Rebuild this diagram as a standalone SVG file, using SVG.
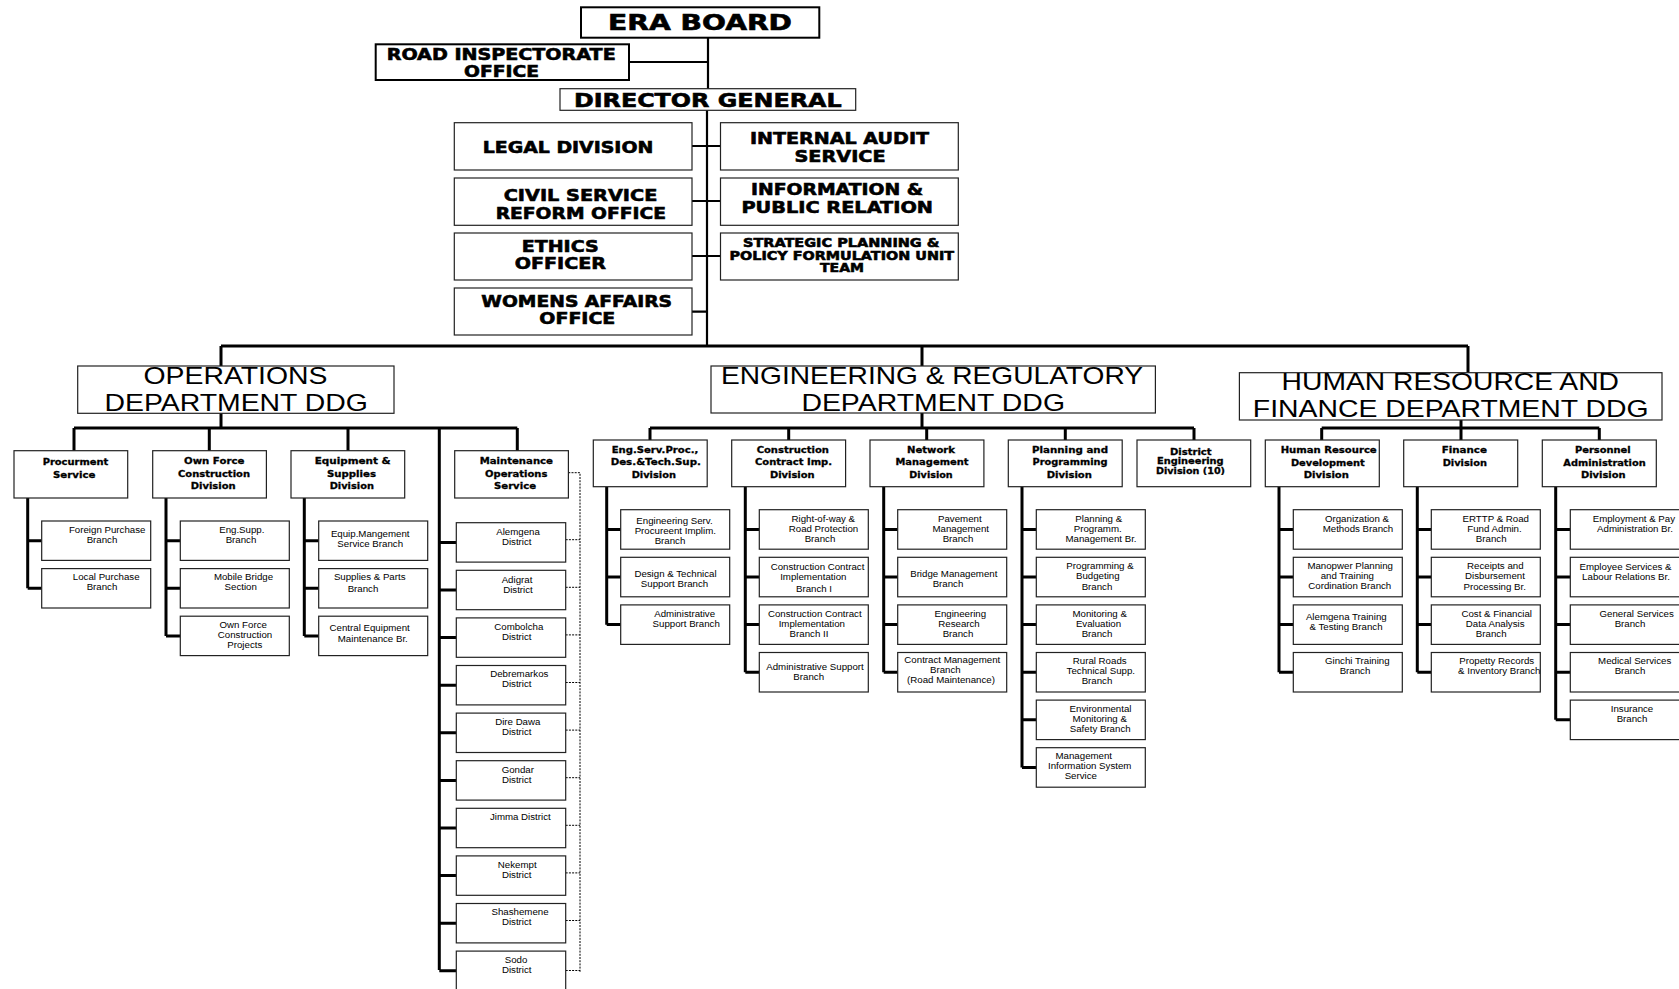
<svg xmlns="http://www.w3.org/2000/svg" width="1679" height="989" viewBox="0 0 1679 989">
<style>
.bx{fill:#fff;stroke:#222;stroke-width:1.2}
.bk{stroke-width:2;stroke:#000}
.ln{stroke:#000;stroke-width:3;fill:none}
.lt{stroke:#000;stroke-width:2.2;fill:none}
.dt{stroke:#000;stroke-width:1;stroke-dasharray:2 1.2;fill:none}
.h{font-family:"DejaVu Sans","Liberation Sans",sans-serif;font-weight:bold;fill:#000;text-anchor:middle;stroke:#000;stroke-width:0.6}
.d{font-family:"DejaVu Sans","Liberation Sans",sans-serif;font-weight:bold;font-size:9px;fill:#000;text-anchor:middle;stroke:#000;stroke-width:0.3}
.g{font-family:"Liberation Sans",Arial,sans-serif;font-size:24px;fill:#000;text-anchor:middle}
.t{font-family:"Liberation Sans",Arial,sans-serif;font-size:9.7px;fill:#000;text-anchor:middle}
</style>
<g id="connectors">
<path class="lt" d="M708 38V89M629 62H708M707 110V346M692 146H721M692 201H721M692 256H721M692 311.7H707"/>
<path class="ln" d="M221 346H1468M221 346V366M922 346V366M1468 346V373"/>
<path class="ln" d="M221 413V428M74 428H517.3M74 428V451M209.3 428V451M348 428V451M517.3 428V451M439.3 428V970"/>
<path class="ln" d="M922 413V428M650 428H1194M650 428V440M788.7 428V440M926.7 428V440M1065.3 428V440M1194 428V440"/>
<path class="ln" d="M1461 420V428M1321.7 428H1599.3M1321.7 428V440M1461 428V440M1599.3 428V440"/>
<path class="ln" d="M27.7 498V588.3M27.7 540.7H41.7M27.7 588.3H41.7M166 498V636M166 540.7H180.3M166 588.3H180.3M166 636H180.3M304.3 498V636M304.3 540.7H318.7M304.3 588.3H318.7M304.3 636H318.7"/>
<path class="ln" d="M439.3 542.4H456.3M439.3 590H456.3M439.3 637.6H456.3M439.3 685.2H456.3M439.3 732.8H456.3M439.3 780.4H456.3M439.3 828H456.3M439.3 875.6H456.3M439.3 923.2H456.3M439.3 970.8H456.3"/>
<path class="dt" d="M568.3 472.7H580V972M565.7 539.7H580M565.7 587.3H580M565.7 634.9H580M565.7 682.5H580M565.7 730.1H580M565.7 777.7H580M565.7 825.3H580M565.7 872.9H580M565.7 920.5H580M565.7 970.5H580"/>
<path class="ln" d="M606.7 486.7V624.7M606.7 529.4H620.7M606.7 577H620.7M606.7 624.6H620.7"/>
<path class="ln" d="M745.3 486.7V672.2M745.3 529.4H759.3M745.3 577H759.3M745.3 624.6H759.3M745.3 672.2H759.3"/>
<path class="ln" d="M883.7 486.7V672.2M883.7 529.4H897.7M883.7 577H897.7M883.7 624.6H897.7M883.7 672.2H897.7"/>
<path class="ln" d="M1022 486.7V767.4M1022 529.4H1036.3M1022 577H1036.3M1022 624.6H1036.3M1022 672.2H1036.3M1022 719.8H1036.3M1022 767.4H1036.3"/>
<path class="ln" d="M1279 486.7V672.2M1279 529.4H1293.3M1279 577H1293.3M1279 624.6H1293.3M1279 672.2H1293.3"/>
<path class="ln" d="M1417.3 486.7V672.2M1417.3 529.4H1431.3M1417.3 577H1431.3M1417.3 624.6H1431.3M1417.3 672.2H1431.3"/>
<path class="ln" d="M1555.7 486.7V719.8M1555.7 529.4H1570.3M1555.7 577H1570.3M1555.7 624.6H1570.3M1555.7 672.2H1570.3M1555.7 719.8H1570.3"/>
</g>
<g id="era-board"><rect class="bx bk" x="581" y="7.3" width="238.3" height="30.4"/><text class="h" x="700" y="30" font-size="21" textLength="184" lengthAdjust="spacingAndGlyphs">ERA BOARD</text></g>
<g id="road-inspectorate"><rect class="bx bk" x="375.7" y="44.3" width="253.3" height="35.7"/><text class="h" x="501.2" y="60" font-size="16" textLength="229" lengthAdjust="spacingAndGlyphs">ROAD INSPECTORATE</text><text class="h" x="501.5" y="77.3" font-size="16" textLength="75" lengthAdjust="spacingAndGlyphs">OFFICE</text></g>
<g id="director-general"><rect class="bx" x="560" y="88.7" width="295.7" height="21.6"/><text class="h" x="707.8" y="106.7" font-size="20" textLength="267.7" lengthAdjust="spacingAndGlyphs">DIRECTOR GENERAL</text></g>
<g id="legal"><rect class="bx" x="454.3" y="122.7" width="237.7" height="47.3"/><text class="h" x="568" y="152.7" font-size="16" textLength="170.6" lengthAdjust="spacingAndGlyphs">LEGAL DIVISION</text></g>
<g id="civil-service"><rect class="bx" x="454.3" y="178" width="237.7" height="47.3"/><text class="h" x="580.5" y="201.3" font-size="16" textLength="153.6" lengthAdjust="spacingAndGlyphs">CIVIL SERVICE</text><text class="h" x="580.8" y="219.3" font-size="16" textLength="170.3" lengthAdjust="spacingAndGlyphs">REFORM OFFICE</text></g>
<g id="ethics"><rect class="bx" x="454.3" y="233" width="237.7" height="47"/><text class="h" x="560.2" y="251.7" font-size="16" textLength="77" lengthAdjust="spacingAndGlyphs">ETHICS</text><text class="h" x="560.3" y="269.3" font-size="16" textLength="91.3" lengthAdjust="spacingAndGlyphs">OFFICER</text></g>
<g id="womens-affairs"><rect class="bx" x="454.3" y="288" width="237.7" height="47"/><text class="h" x="576.7" y="306.7" font-size="16" textLength="190.7" lengthAdjust="spacingAndGlyphs">WOMENS AFFAIRS</text><text class="h" x="577.3" y="324.3" font-size="16" textLength="76" lengthAdjust="spacingAndGlyphs">OFFICE</text></g>
<g id="internal-audit"><rect class="bx" x="720.5" y="122.7" width="237.8" height="47.3"/><text class="h" x="839.5" y="144" font-size="16" textLength="179" lengthAdjust="spacingAndGlyphs">INTERNAL AUDIT</text><text class="h" x="840" y="161.7" font-size="16" textLength="91" lengthAdjust="spacingAndGlyphs">SERVICE</text></g>
<g id="information"><rect class="bx" x="720.5" y="178" width="237.8" height="47.3"/><text class="h" x="837" y="195.3" font-size="16" textLength="172" lengthAdjust="spacingAndGlyphs">INFORMATION &amp;</text><text class="h" x="837.2" y="212.7" font-size="16" textLength="191.6" lengthAdjust="spacingAndGlyphs">PUBLIC RELATION</text></g>
<g id="strategic"><rect class="bx" x="720.5" y="233" width="237.8" height="47"/><text class="h" x="841.2" y="246.7" font-size="12.5" textLength="196.4" lengthAdjust="spacingAndGlyphs">STRATEGIC PLANNING &amp;</text><text class="h" x="841.8" y="260" font-size="12.5" textLength="224.5" lengthAdjust="spacingAndGlyphs">POLICY FORMULATION UNIT</text><text class="h" x="842" y="272.3" font-size="12.5" textLength="44" lengthAdjust="spacingAndGlyphs">TEAM</text></g>
<g id="operations-ddg"><rect class="bx" x="77.7" y="366" width="316.3" height="47.3"/><text class="g" x="235.5" y="383.5" textLength="184" lengthAdjust="spacingAndGlyphs">OPERATIONS</text><text class="g" x="236.2" y="410.5" textLength="263.5" lengthAdjust="spacingAndGlyphs">DEPARTMENT DDG</text></g>
<g id="engineering-ddg"><rect class="bx" x="711" y="366" width="444.4" height="47"/><text class="g" x="932" y="383.5" textLength="422" lengthAdjust="spacingAndGlyphs">ENGINEERING &amp; REGULATORY</text><text class="g" x="933.2" y="410.5" textLength="263.6" lengthAdjust="spacingAndGlyphs">DEPARTMENT DDG</text></g>
<g id="hr-finance-ddg"><rect class="bx" x="1239.4" y="372.7" width="422.6" height="47.3"/><text class="g" x="1450.3" y="389.5" textLength="337.4" lengthAdjust="spacingAndGlyphs">HUMAN RESOURCE AND</text><text class="g" x="1450.7" y="416.8" textLength="395.7" lengthAdjust="spacingAndGlyphs">FINANCE DEPARTMENT DDG</text></g>
<g id="procurement"><rect class="bx" x="14" y="450.7" width="113.7" height="47.3"/><text class="d" x="75.5" y="464.5" textLength="65.7" lengthAdjust="spacingAndGlyphs">Procurment</text><text class="d" x="74.2" y="477.5" textLength="42.3" lengthAdjust="spacingAndGlyphs">Service</text></g>
<g id="own-force"><rect class="bx" x="152.7" y="450.7" width="113.7" height="47.3"/><text class="d" x="214.2" y="464.3" textLength="60.3" lengthAdjust="spacingAndGlyphs">Own Force</text><text class="d" x="214" y="477.3" textLength="72" lengthAdjust="spacingAndGlyphs">Construction</text><text class="d" x="213.2" y="489" textLength="45" lengthAdjust="spacingAndGlyphs">Division</text></g>
<g id="equipment"><rect class="bx" x="291" y="450.7" width="113.7" height="47.3"/><text class="d" x="352.7" y="464.3" textLength="76" lengthAdjust="spacingAndGlyphs">Equipment  &amp;</text><text class="d" x="351.5" y="477.3" textLength="49" lengthAdjust="spacingAndGlyphs">Supplies</text><text class="d" x="351.8" y="489" textLength="44.3" lengthAdjust="spacingAndGlyphs">Division</text></g>
<g id="maintenance"><rect class="bx" x="454.7" y="450.7" width="113.7" height="47.3"/><text class="d" x="516.3" y="464.3" textLength="73.3" lengthAdjust="spacingAndGlyphs">Maintenance</text><text class="d" x="516.2" y="477.3" textLength="62.3" lengthAdjust="spacingAndGlyphs">Operations</text><text class="d" x="515" y="489.3" textLength="42" lengthAdjust="spacingAndGlyphs">Service</text></g>
<g id="foreign-purchase"><rect class="bx" x="41.7" y="521" width="109" height="39.4"/><text class="t" x="107.2" y="533.3">Foreign Purchase</text><text class="t" x="102" y="543.3">Branch</text></g>
<g id="local-purchase"><rect class="bx" x="41.7" y="568.6" width="109" height="39.4"/><text class="t" x="106.2" y="580.3">Local Purchase</text><text class="t" x="102" y="590.3">Branch</text></g>
<g id="eng-supp"><rect class="bx" x="180.3" y="521" width="109" height="39.4"/><text class="t" x="241.8" y="533.3">Eng.Supp.</text><text class="t" x="241" y="543.3">Branch</text></g>
<g id="mobile-bridge"><rect class="bx" x="180.3" y="568.6" width="109" height="39.4"/><text class="t" x="243.5" y="580.3">Mobile Bridge</text><text class="t" x="240.7" y="590.3">Section</text></g>
<g id="own-force-projects"><rect class="bx" x="180.3" y="616.2" width="109" height="39.4"/><text class="t" x="243.2" y="628.3">Own Force</text><text class="t" x="245" y="638.3">Construction</text><text class="t" x="244.8" y="648.3">Projects</text></g>
<g id="equip-mgmt"><rect class="bx" x="318.7" y="521" width="109" height="39.4"/><text class="t" x="370.2" y="537.3">Equip.Mangement</text><text class="t" x="370.2" y="546.7">Service Branch</text></g>
<g id="supplies-parts"><rect class="bx" x="318.7" y="568.6" width="109" height="39.4"/><text class="t" x="369.7" y="580.3">Supplies &amp; Parts</text><text class="t" x="363" y="592.3">Branch</text></g>
<g id="central-equipment"><rect class="bx" x="318.7" y="616.2" width="109" height="39.4"/><text class="t" x="369.7" y="630.7">Central Equipment</text><text class="t" x="372.8" y="642.3">Maintenance Br.</text></g>
<g id="d-alemgena"><rect class="bx" x="456.3" y="522.7" width="109.4" height="39.4"/><text class="t" x="518" y="535">Alemgena</text><text class="t" x="516.7" y="545">District</text></g>
<g id="d-adigrat"><rect class="bx" x="456.3" y="570.3" width="109.4" height="39.4"/><text class="t" x="517" y="582.6">Adigrat</text><text class="t" x="518" y="592.6">District</text></g>
<g id="d-combolcha"><rect class="bx" x="456.3" y="617.9" width="109.4" height="39.4"/><text class="t" x="518.8" y="630.2">Combolcha</text><text class="t" x="516.7" y="640.2">District</text></g>
<g id="d-debremarkos"><rect class="bx" x="456.3" y="665.5" width="109.4" height="39.4"/><text class="t" x="519.3" y="677.3">Debremarkos</text><text class="t" x="516.7" y="687.3">District</text></g>
<g id="d-diredawa"><rect class="bx" x="456.3" y="713.1" width="109.4" height="39.4"/><text class="t" x="517.8" y="724.9">Dire Dawa</text><text class="t" x="516.7" y="734.9">District</text></g>
<g id="d-gondar"><rect class="bx" x="456.3" y="760.7" width="109.4" height="39.4"/><text class="t" x="517.8" y="772.5">Gondar</text><text class="t" x="516.7" y="782.5">District</text></g>
<g id="d-jimma"><rect class="bx" x="456.3" y="808.3" width="109.4" height="39.4"/><text class="t" x="520.3" y="820.2">Jimma District</text></g>
<g id="d-nekempt"><rect class="bx" x="456.3" y="855.9" width="109.4" height="39.4"/><text class="t" x="517.2" y="867.7">Nekempt</text><text class="t" x="516.7" y="877.7">District</text></g>
<g id="d-shashemene"><rect class="bx" x="456.3" y="903.5" width="109.4" height="39.4"/><text class="t" x="520" y="915.3">Shashemene</text><text class="t" x="516.7" y="925.3">District</text></g>
<g id="d-sodo"><rect class="bx" x="456.3" y="951.1" width="109.4" height="39.4"/><text class="t" x="516" y="962.9">Sodo</text><text class="t" x="516.7" y="972.9">District</text></g>
<g id="eng-serv"><rect class="bx" x="593.3" y="440" width="113.9" height="46.7"/><text class="d" x="655" y="453.3" textLength="86.7" lengthAdjust="spacingAndGlyphs">Eng.Serv.Proc.,</text><text class="d" x="655.8" y="465.3" textLength="90.3" lengthAdjust="spacingAndGlyphs">Des.&amp;Tech.Sup.</text><text class="d" x="653.8" y="478" textLength="44.3" lengthAdjust="spacingAndGlyphs">Division</text></g>
<g id="construction-contract"><rect class="bx" x="731.7" y="440" width="113.9" height="46.7"/><text class="d" x="792.8" y="453.3" textLength="72.3" lengthAdjust="spacingAndGlyphs">Construction</text><text class="d" x="793.5" y="465.3" textLength="77" lengthAdjust="spacingAndGlyphs">Contract Imp.</text><text class="d" x="792.3" y="478" textLength="44.7" lengthAdjust="spacingAndGlyphs">Division</text></g>
<g id="network"><rect class="bx" x="870" y="440" width="113.9" height="46.7"/><text class="d" x="931" y="453.3" textLength="48" lengthAdjust="spacingAndGlyphs">Network</text><text class="d" x="932" y="465.3" textLength="73" lengthAdjust="spacingAndGlyphs">Management</text><text class="d" x="931" y="478" textLength="43.3" lengthAdjust="spacingAndGlyphs">Division</text></g>
<g id="planning"><rect class="bx" x="1008.3" y="440" width="113.9" height="46.7"/><text class="d" x="1070" y="453.3" textLength="76" lengthAdjust="spacingAndGlyphs">Planning  and</text><text class="d" x="1070" y="465.3" textLength="75" lengthAdjust="spacingAndGlyphs">Programming</text><text class="d" x="1069.3" y="478" textLength="45.3" lengthAdjust="spacingAndGlyphs">Division</text></g>
<g id="district-engineering"><rect class="bx" x="1137" y="440" width="113.7" height="46.7"/><text class="d" x="1190.8" y="455" textLength="41.7" lengthAdjust="spacingAndGlyphs">District</text><text class="d" x="1190.3" y="464.3" textLength="66.7" lengthAdjust="spacingAndGlyphs">Engineering</text><text class="d" x="1190.5" y="474" textLength="69" lengthAdjust="spacingAndGlyphs">Division (10)</text></g>
<g id="eng-serv-proc"><rect class="bx" x="620.7" y="509.7" width="109" height="39.5"/><text class="t" x="674.5" y="524.3">Engineering Serv.</text><text class="t" x="675.3" y="534.3">Procureent Implim.</text><text class="t" x="670" y="544.3">Branch</text></g>
<g id="design-tech"><rect class="bx" x="620.7" y="557.3" width="109" height="39.5"/><text class="t" x="675.5" y="577.3">Design &amp; Technical</text><text class="t" x="674.5" y="587.3">Support Branch</text></g>
<g id="admin-support-1"><rect class="bx" x="620.7" y="604.9" width="109" height="39.5"/><text class="t" x="684.7" y="617">Administrative</text><text class="t" x="686.2" y="627">Support Branch</text></g>
<g id="right-of-way"><rect class="bx" x="759.3" y="509.7" width="109" height="39.5"/><text class="t" x="823.3" y="522">Right-of-way &amp;</text><text class="t" x="823.5" y="532">Road Protection</text><text class="t" x="820" y="542">Branch</text></g>
<g id="cci-1"><rect class="bx" x="759.3" y="557.3" width="109" height="39.5"/><text class="t" x="817.5" y="570.3">Construction Contract</text><text class="t" x="813.3" y="580.3">Implementation</text><text class="t" x="814" y="592">Branch I</text></g>
<g id="cci-2"><rect class="bx" x="759.3" y="604.9" width="109" height="39.5"/><text class="t" x="814.8" y="617">Construction Contract</text><text class="t" x="811.8" y="627">Implementation</text><text class="t" x="809" y="637">Branch II</text></g>
<g id="admin-support-2"><rect class="bx" x="759.3" y="652.5" width="109" height="39.5"/><text class="t" x="815" y="670.3">Administrative Support</text><text class="t" x="808.7" y="680.3">Branch</text></g>
<g id="pavement"><rect class="bx" x="897.7" y="509.7" width="109" height="39.5"/><text class="t" x="959.8" y="522">Pavement</text><text class="t" x="960.7" y="532">Management</text><text class="t" x="958" y="542">Branch</text></g>
<g id="bridge-mgmt"><rect class="bx" x="897.7" y="557.3" width="109" height="39.5"/><text class="t" x="953.8" y="577">Bridge Management</text><text class="t" x="948" y="587">Branch</text></g>
<g id="eng-research"><rect class="bx" x="897.7" y="604.9" width="109" height="39.5"/><text class="t" x="960.3" y="617">Engineering</text><text class="t" x="959" y="627">Research</text><text class="t" x="958" y="637">Branch</text></g>
<g id="contract-mgmt"><rect class="bx" x="897.7" y="652.5" width="109" height="39.5"/><text class="t" x="952.3" y="663">Contract Management</text><text class="t" x="945.3" y="673">Branch</text><text class="t" x="951" y="683">(Road Maintenance)</text></g>
<g id="planning-prog"><rect class="bx" x="1036.3" y="509.7" width="109" height="39.5"/><text class="t" x="1098.7" y="522">Planning &amp;</text><text class="t" x="1097.7" y="532">Programm.</text><text class="t" x="1101" y="542">Management Br.</text></g>
<g id="prog-budget"><rect class="bx" x="1036.3" y="557.3" width="109" height="39.5"/><text class="t" x="1100" y="569">Programming &amp;</text><text class="t" x="1097.8" y="579">Budgeting</text><text class="t" x="1097" y="589.7">Branch</text></g>
<g id="monitoring-eval"><rect class="bx" x="1036.3" y="604.9" width="109" height="39.5"/><text class="t" x="1099.7" y="617">Monitoring &amp;</text><text class="t" x="1098.5" y="627">Evaluation</text><text class="t" x="1097" y="637">Branch</text></g>
<g id="rural-roads"><rect class="bx" x="1036.3" y="652.5" width="109" height="39.5"/><text class="t" x="1099.7" y="664">Rural Roads</text><text class="t" x="1100.8" y="674">Technical Supp.</text><text class="t" x="1097" y="684">Branch</text></g>
<g id="environmental"><rect class="bx" x="1036.3" y="700.1" width="109" height="39.5"/><text class="t" x="1100.5" y="712">Environmental</text><text class="t" x="1099.7" y="722">Monitoring  &amp;</text><text class="t" x="1100.2" y="732">Safety Branch</text></g>
<g id="mis"><rect class="bx" x="1036.3" y="747.7" width="109" height="39.5"/><text class="t" x="1083.8" y="759">Management</text><text class="t" x="1089.7" y="769">Information System</text><text class="t" x="1080.8" y="779">Service</text></g>
<g id="hr-development"><rect class="bx" x="1265.3" y="440" width="114" height="46.7"/><text class="d" x="1328.7" y="453.3" textLength="96" lengthAdjust="spacingAndGlyphs">Human Resource</text><text class="d" x="1327.8" y="465.7" textLength="73.7" lengthAdjust="spacingAndGlyphs">Development</text><text class="d" x="1326.3" y="478" textLength="45.3" lengthAdjust="spacingAndGlyphs">Division</text></g>
<g id="finance"><rect class="bx" x="1403.7" y="440" width="114" height="46.7"/><text class="d" x="1464.3" y="453.3" textLength="45.3" lengthAdjust="spacingAndGlyphs">Finance</text><text class="d" x="1464.8" y="465.7" textLength="44.3" lengthAdjust="spacingAndGlyphs">Division</text></g>
<g id="personnel"><rect class="bx" x="1542.3" y="440" width="114" height="46.7"/><text class="d" x="1602.8" y="453.3" textLength="55.7" lengthAdjust="spacingAndGlyphs">Personnel</text><text class="d" x="1604.5" y="465.7" textLength="82.3" lengthAdjust="spacingAndGlyphs">Administration</text><text class="d" x="1603.3" y="478" textLength="44.7" lengthAdjust="spacingAndGlyphs">Division</text></g>
<g id="org-methods"><rect class="bx" x="1293.3" y="509.7" width="109" height="39.5"/><text class="t" x="1357" y="522">Organization &amp;</text><text class="t" x="1358" y="531.7">Methods Branch</text></g>
<g id="manpower"><rect class="bx" x="1293.3" y="557.3" width="109" height="39.5"/><text class="t" x="1350.2" y="569">Manopwer Planning</text><text class="t" x="1347.3" y="579">and Training</text><text class="t" x="1349.8" y="589">Cordination Branch</text></g>
<g id="alemgena-training"><rect class="bx" x="1293.3" y="604.9" width="109" height="39.5"/><text class="t" x="1346.3" y="620">Alemgena Training</text><text class="t" x="1346" y="630">&amp; Testing Branch</text></g>
<g id="ginchi"><rect class="bx" x="1293.3" y="652.5" width="109" height="39.5"/><text class="t" x="1357.3" y="664">Ginchi Training</text><text class="t" x="1355" y="674">Branch</text></g>
<g id="erttp"><rect class="bx" x="1431.3" y="509.7" width="109" height="39.5"/><text class="t" x="1495.8" y="522">ERTTP &amp; Road</text><text class="t" x="1494.5" y="532">Fund Admin.</text><text class="t" x="1491.2" y="542">Branch</text></g>
<g id="receipts"><rect class="bx" x="1431.3" y="557.3" width="109" height="39.5"/><text class="t" x="1495.3" y="569">Receipts  and</text><text class="t" x="1495" y="579">Disbursement</text><text class="t" x="1494.7" y="589.7">Processing Br.</text></g>
<g id="cost-financial"><rect class="bx" x="1431.3" y="604.9" width="109" height="39.5"/><text class="t" x="1496.7" y="617">Cost &amp; Financial</text><text class="t" x="1495.2" y="627">Data Analysis</text><text class="t" x="1491.2" y="637">Branch</text></g>
<g id="property"><rect class="bx" x="1431.3" y="652.5" width="109" height="39.5"/><text class="t" x="1496.7" y="664">Propetty Records</text><text class="t" x="1499.3" y="674">&amp; Inventory Branch</text></g>
<g id="employment"><rect class="bx" x="1570.3" y="509.7" width="110" height="39.5"/><text class="t" x="1592.7" y="522" style="text-anchor:start">Employment &amp; Pay</text><text class="t" x="1635" y="531.7">Administration Br.</text></g>
<g id="employee-services"><rect class="bx" x="1570.3" y="557.3" width="110" height="39.5"/><text class="t" x="1625.5" y="570">Employee Services &amp;</text><text class="t" x="1626" y="580">Labour Relations Br.</text></g>
<g id="general-services"><rect class="bx" x="1570.3" y="604.9" width="110" height="39.5"/><text class="t" x="1636.7" y="617">General Services</text><text class="t" x="1630" y="627">Branch</text></g>
<g id="medical"><rect class="bx" x="1570.3" y="652.5" width="110" height="39.5"/><text class="t" x="1634.7" y="664">Medical Services</text><text class="t" x="1630" y="674">Branch</text></g>
<g id="insurance"><rect class="bx" x="1570.3" y="700.1" width="110" height="39.5"/><text class="t" x="1632" y="712">Insurance</text><text class="t" x="1632" y="722">Branch</text></g>
</svg>
